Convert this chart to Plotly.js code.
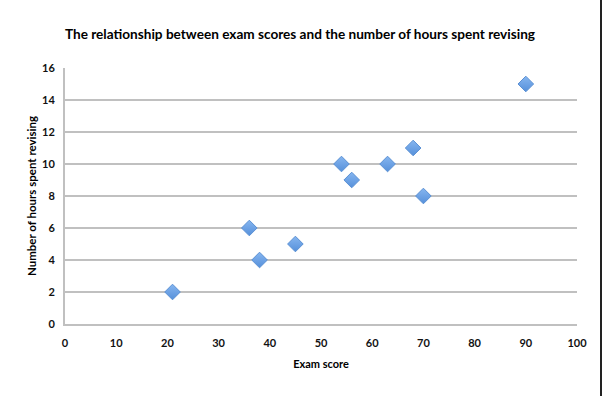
<!DOCTYPE html>
<html>
<head>
<meta charset="utf-8">
<script src="https://cdn.plot.ly/plotly-3.0.1.min.js"></script>
<style>
html,body{margin:0;padding:0;background:#fff;}
#wrap{width:600px;height:396px;border-right:2px solid #222;}
#chart{width:600px;height:396px;}
</style>
</head>
<body>
<div id="wrap"><div id="chart"></div></div>
<script>
var examScores = [21, 36, 38, 45, 54, 56, 63, 68, 70, 90];
var hoursRevising = [2, 6, 4, 5, 10, 9, 10, 11, 8, 15];
var xTicks = [0, 10, 20, 30, 40, 50, 60, 70, 80, 90, 100];
var yTicks = [0, 2, 4, 6, 8, 10, 12, 14, 16];

var font = 'Lato, "Open Sans", sans-serif';
var trace = {
  type: 'scatter', mode: 'markers',
  x: examScores, y: hoursRevising,
  marker: {
    symbol: 'diamond', size: 12,
    color: '#86b6f0',
    gradient: {type: 'vertical', color: '#5690da'},
    line: {color: '#5a90d4', width: 1}
  },
  hoverinfo: 'x+y'
};
var layout = {
  width: 600, height: 396,
  margin: {l: 65, r: 23, t: 68, b: 72},
  paper_bgcolor: '#fff', plot_bgcolor: '#fff',
  showlegend: false,
  title: {text: '<b>The relationship between exam scores and the number of hours spent revising</b>',
          font: {family: font, size: 13.6, color: '#000'}, x: 0.5, xanchor: 'center', y: 0.913, yanchor: 'middle'},
  xaxis: {
    range: [0, 100], tickvals: xTicks, ticktext: xTicks.map(String),
    showgrid: false, zeroline: false, showline: true, linecolor: '#c0c0c0', linewidth: 2,
    ticks: 'outside', ticklen: 8, tickcolor: 'rgba(0,0,0,0)', tickfont: {family: font, size: 11, color: '#111', weight: 'bold'},
    title: {text: '<b>Exam score</b>', font: {family: font, size: 11, color: '#000'}, standoff: 12}
  },
  yaxis: {
    range: [0, 16], tickvals: yTicks, ticktext: yTicks.map(String),
    showgrid: true, gridcolor: '#c0c0c0', gridwidth: 2,
    zeroline: false, showline: true, linecolor: '#c0c0c0', linewidth: 2,
    ticks: 'outside', ticklen: 6, tickcolor: 'rgba(0,0,0,0)', tickfont: {family: font, size: 11, color: '#111', weight: 'bold'},
    title: {text: '<b>Number of hours spent revising</b>', font: {family: font, size: 11.5, color: '#000'}, standoff: 3}
  }
};
Plotly.newPlot('chart', [trace], layout, {displayModeBar: false, staticPlot: true});
</script>
</body>
</html>
